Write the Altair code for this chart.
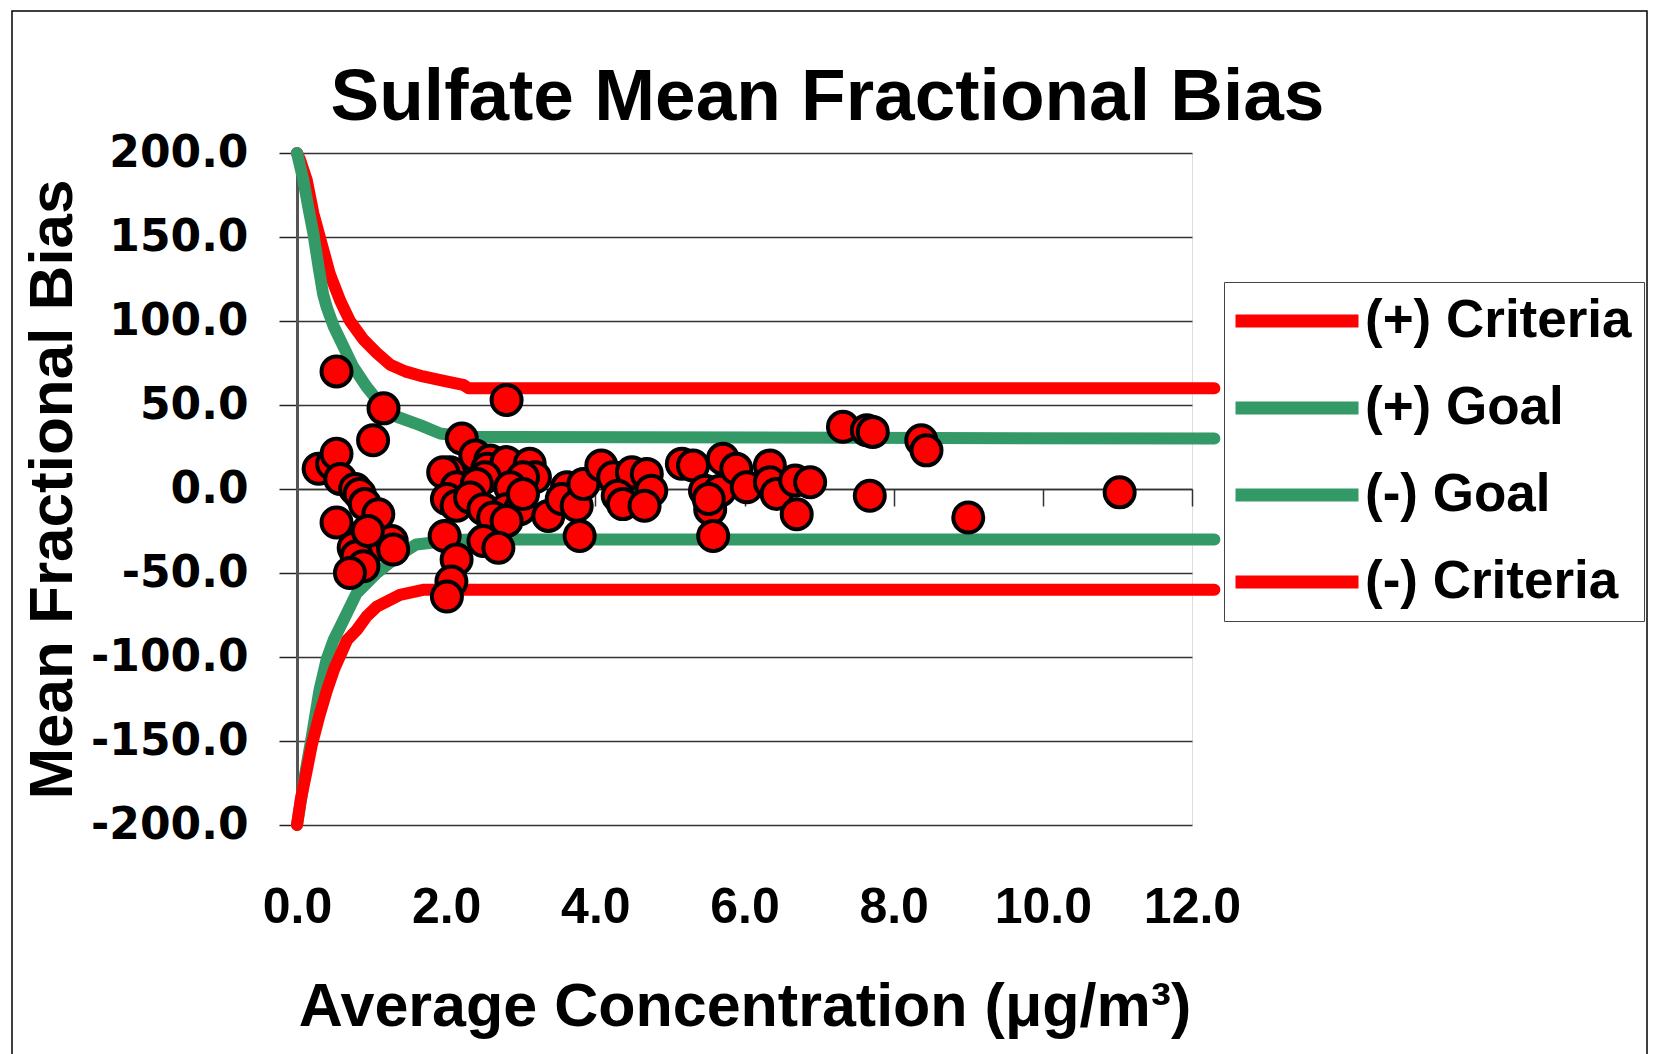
import altair as alt
import pandas as pd

# ---- data ----
series_names = ["(+) Criteria", "(+) Goal", "(-) Goal", "(-) Criteria"]
series_colors = ["#FF0000", "#339966", "#339966", "#FF0000"]

crit_pos_x = [0, 0.04, 0.13, 0.22, 0.33, 0.44, 0.58, 0.71, 0.89, 1.07, 1.25, 1.45, 1.69, 2.0, 2.23, 2.3, 12.3]
crit_pos_y = [200, 196, 184, 164, 146, 128, 112, 100, 89, 81, 74, 70, 67, 64, 62, 60, 60]

goal_pos_x = [0, 0.085, 0.15, 0.22, 0.29, 0.35, 0.40, 0.49, 0.62, 0.75, 0.93, 1.11, 1.34, 1.65, 1.92, 2.27, 12.3]
goal_pos_y = [200, 184, 168, 152, 132, 116, 108, 97, 85, 73, 61, 51, 43, 38, 33, 31, 30]

goal_neg_x = [0, 0.1, 0.2, 0.3, 0.4, 0.49, 0.58, 0.8, 1.07, 1.38, 1.6, 2.0, 2.3, 12.3]
goal_neg_y = [-200, -172, -147, -120, -101, -90, -82, -62, -50, -39, -33, -31, -30, -30]

crit_neg_x = [0, 0.05, 0.12, 0.2, 0.3, 0.4, 0.5, 0.67, 0.8, 0.93, 1.07, 1.38, 1.69, 2.0, 12.3]
crit_neg_y = [-200, -185, -170, -152, -135, -120, -107, -90, -84, -76, -70, -63, -60, -60, -60]

point_x = [0.29, 0.47, 0.53, 0.58, 0.53, 1.16, 1.02, 0.78, 0.84, 0.91, 1.09, 0.53, 0.76, 1.02, 1.27,
           1.29, 0.80, 0.89, 0.71, 0.95,
           2.81, 2.21, 2.39, 2.59, 2.05, 1.96, 2.55, 2.81, 3.12, 3.19, 3.03, 2.52, 2.14, 2.41, 2.86,
           2.01, 2.14, 2.32, 2.50, 2.81, 2.99, 3.03, 2.63, 2.81, 2.50, 2.70, 1.98, 2.14, 2.07, 2.01,
           3.37, 3.62, 3.55, 3.75, 3.79, 3.84,
           4.08, 4.24, 4.49, 4.69, 4.75, 4.30, 4.37, 4.66, 5.16, 5.31, 5.71, 5.47, 5.54, 5.58, 5.67,
           5.52, 5.89, 6.03, 6.34, 6.34, 6.43, 6.68, 6.88, 6.70,
           7.32, 7.64, 7.72, 7.68, 8.37, 8.44, 9.0, 11.03]
point_y = [12, 15, 21, 6, 70, 48, 29, 0, -3, -9, -15, -20, -35, -34, -31,
           -36, -40, -46, -50, -25,
           53, 30, 20, 17, 10, 10, 12, 16, 15, 7, 7, 7, 1, 3, 1,
           -6, -10, -5, -12, -12, -12, -3, -17, -19, -31, -35, -28, -42, -55, -64,
           -16, 1, -6, -10, -28, 3,
           14, 7, 10, 9, -1, -4, -9, -10, 15, 14, 18, -1, -12, -28, -1,
           -6, 12, 1, 14, 4, -3, 5, 4, -15,
           37, 35, 34, -4, 29, 23, -17, -2]

y_ticks = [-200, -150, -100, -50, 0, 50, 100, 150, 200]
x_ticks = [0, 2, 4, 6, 8, 10, 12]

# ---- tables ----
rows = []
for name, xs, ys in [(series_names[0], crit_pos_x, crit_pos_y),
                     (series_names[1], goal_pos_x, goal_pos_y),
                     (series_names[2], goal_neg_x, goal_neg_y),
                     (series_names[3], crit_neg_x, crit_neg_y)]:
    for i, (a, b) in enumerate(zip(xs, ys)):
        rows.append({"series": name, "x": a, "y": b, "ord": i})
lines_df = pd.DataFrame(rows)
points_df = pd.DataFrame({"x": point_x, "y": point_y})

FONT = "Liberation Sans"

X = alt.X(
    "x:Q",
    scale=alt.Scale(domain=[0, 12], nice=False, zero=False),
    axis=alt.Axis(
        values=x_ticks, format=".1f", offset=-336, tickSize=17, tickWidth=1.5,
        tickColor="#333333", domainColor="#333333", domainWidth=1.5,
        labelPadding=376, labelFont=FONT, labelFontSize=50, labelFontWeight="bold",
        labelColor="black", labelFlush=False, grid=False,
        title="Average Concentration (μg/m³)", titleFont=FONT, titleFontSize=61,
        titleFontWeight="bold", titleColor="black", titleY=488, titleBaseline="top",
    ),
)
Y = alt.Y(
    "y:Q",
    scale=alt.Scale(domain=[-200, 200], nice=False),
    axis=alt.Axis(
        values=y_ticks,
        labelExpr="replace(format(datum.value, '.1f'), '\u2212', '-')",
        tickSize=18, tickWidth=1.5, tickColor="#222222",
        domainColor="#555555", domainWidth=3,
        grid=True, gridColor="#333333", gridWidth=1.3,
        labelPadding=31, labelFont="DejaVu Sans", labelFontSize=44,
        labelFontWeight="bold", labelColor="black", labelFlush=False,
        title="Mean Fractional Bias", titleFont=FONT, titleFontSize=62,
        titleFontWeight="bold", titleColor="black", titlePadding=13,
    ),
)

frame = alt.Chart(alt.Data(values=[{"k": 1}])).mark_rect(
    fillOpacity=0, stroke="black", strokeWidth=1.5, clip=False
).encode(x=alt.value(-285), x2=alt.value(1350), y=alt.value(-142), y2=alt.value(950))

lines = alt.Chart(lines_df).mark_line(
    strokeWidth=12, strokeCap="round", strokeJoin="round", clip=False
).encode(
    x=X,
    y=Y,
    order="ord:Q",
    color=alt.Color(
        "series:N",
        scale=alt.Scale(domain=series_names, range=series_colors),
        legend=alt.Legend(
            orient="none", legendX=927, legendY=129, direction="vertical",
            title=None, symbolType="M-3,0L3,0", symbolSize=1681,
            symbolStrokeWidth=13, symbolOffset=34, labelOffset=41,
            labelFont=FONT, labelFontSize=53, labelFontWeight="bold",
            labelColor="black", labelLimit=500, rowPadding=33, padding=12,
            strokeColor="#444444", fillColor="white",
        ),
    ),
)

points = alt.Chart(points_df).mark_circle(
    size=900, color="#FF0000", opacity=1, stroke="black", strokeWidth=4
).encode(x=X, y=Y)

chart = alt.layer(frame, lines, points).properties(
    width=895,
    height=672,
    autosize=alt.AutoSizeParams(type="none"),
    padding={"left": 297, "top": 153, "right": 462, "bottom": 229},
    title=alt.TitleParams(
        "Sulfate Mean Fractional Bias", font=FONT, fontSize=73, fontWeight="bold",
        color="black", anchor="middle", frame="group", dx=83, dy=218, offset=20,
        baseline="bottom",
    ),
).configure_view(stroke="#808080", strokeWidth=5).configure(background="white")

chart.save("out.html", embed_options={"renderer": "svg", "actions": False})
